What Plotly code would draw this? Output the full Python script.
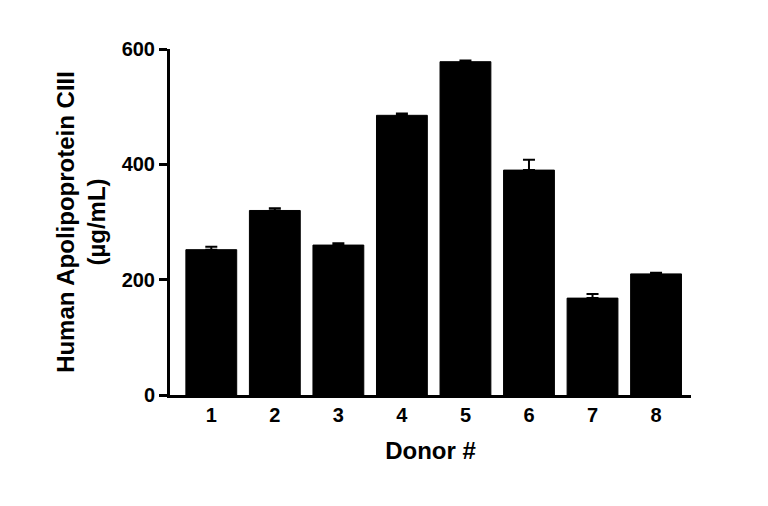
import plotly.graph_objects as go

donors = ["1", "2", "3", "4", "5", "6", "7", "8"]
means = [252, 320, 260, 485, 578, 390, 168, 210]
errors = [5, 4, 3, 3, 2, 18, 7, 2]

font = "Liberation Sans"

fig = go.Figure()
fig.add_trace(go.Bar(
    x=donors, y=means,
    marker=dict(color="black", line=dict(color="black", width=1)),
    width=0.8,
    error_y=dict(type="data", symmetric=False, array=errors,
                 arrayminus=[0] * len(errors), color="black",
                 thickness=2, width=6),
))
fig.update_layout(
    width=768, height=506,
    margin=dict(l=162, r=85, t=41, b=119),
    plot_bgcolor="white", paper_bgcolor="white",
    showlegend=False,
    font=dict(family=font, size=20, color="black"),
)
fig.update_xaxes(
    showline=True, linecolor="black", linewidth=3,
    ticks="", tickfont=dict(size=20, family=font, weight="bold"),
    title=dict(text="<b>Donor #</b>", font=dict(size=24), standoff=18),
    range=[-0.65, 7.55],
)
fig.update_yaxes(
    showline=True, linecolor="black", linewidth=3,
    ticks="outside", ticklen=8, tickwidth=3, tickcolor="black",
    tickvals=[0, 200, 400, 600], range=[0, 600], showgrid=False,
    zeroline=False,
    tickfont=dict(size=20, family=font, weight="bold"),
    title=dict(text="<b>Human Apolipoprotein CIII<br>(µg/mL)</b>",
               font=dict(size=24), standoff=10),
)
fig.write_html("out.html")
